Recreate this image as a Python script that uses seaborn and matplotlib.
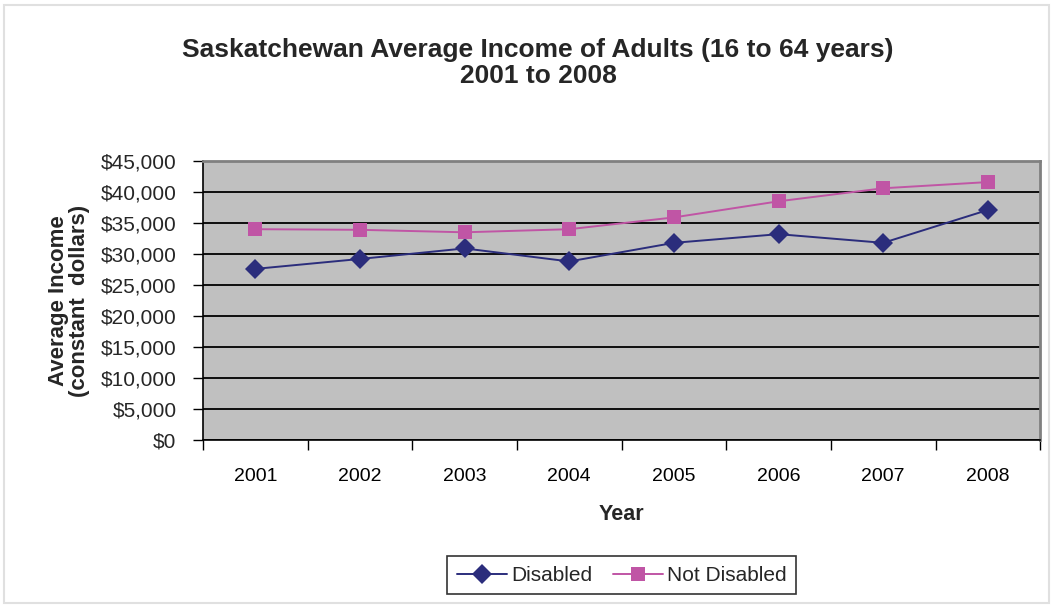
import pandas as pd
import numpy as np
import matplotlib.pyplot as plt
import seaborn as sns
from matplotlib.ticker import FuncFormatter, MultipleLocator
from matplotlib.patches import Rectangle

years = [2001, 2002, 2003, 2004, 2005, 2006, 2007, 2008]
disabled = [27600, 29200, 30900, 28800, 31800, 33200, 31800, 37100]
not_disabled = [34000, 33900, 33500, 34000, 35900, 38500, 40600, 41600]
series_names = ['Disabled', 'Not Disabled']
colors = ['#2B2D7C', '#C055A5']

df = pd.DataFrame({
    'Year': years * 2,
    'Income': disabled + not_disabled,
    'Group': [series_names[0]] * len(years) + [series_names[1]] * len(years),
})

sns.set_theme(style='white')
plt.rcParams['font.family'] = ['Liberation Sans', 'DejaVu Sans']

fig = plt.figure(figsize=(10.53, 6.05), dpi=100)
ax = fig.add_axes([0.1928, 0.2727, 0.795, 0.4612])
ax.set_facecolor('#C0C0C0')

sns.lineplot(data=df, x='Year', y='Income', hue='Group', style='Group',
             palette=colors, markers=['D', 's'], dashes=False,
             markersize=10, linewidth=1.4, markeredgewidth=0, ax=ax)

ax.set_ylim(0, 45000)
ax.set_xlim(years[0] - 0.5, years[-1] + 0.5)
ax.yaxis.set_major_locator(MultipleLocator(5000))
ax.yaxis.set_major_formatter(FuncFormatter(lambda v, p: f'${v:,.0f}'))
ax.set_xticks(years)
ax.set_xticklabels([str(y) for y in years])
ax.set_xticks(np.arange(years[0] - 0.5, years[-1] + 1, 1), minor=True)
ax.grid(axis='y', color='black', linewidth=1.3)
ax.set_axisbelow(True)

ax.tick_params(axis='x', which='major', length=0, pad=20, labelsize=14, colors='black')
ax.tick_params(axis='x', which='minor', length=7, width=1, color='black', direction='out', bottom=True)
ax.tick_params(axis='y', length=7, width=1, color='black', direction='out', left=True, labelsize=15, pad=12)

for side in ['top', 'right']:
    ax.spines[side].set_color('#808080')
    ax.spines[side].set_linewidth(2)
for side in ['left', 'bottom']:
    ax.spines[side].set_color('black')
    ax.spines[side].set_linewidth(1.2)

ax.set_xlabel('Year', fontsize=15.5, fontweight='bold', labelpad=14)
ax.set_ylabel('Average Income\n(constant  dollars)', fontsize=16, fontweight='bold', labelpad=8, linespacing=1.0)

fig.suptitle('Saskatchewan Average Income of Adults (16 to 64 years)\n2001 to 2008',
             x=0.511, y=0.937, fontsize=19, fontweight='bold', linespacing=1.1)

leg = ax.legend(loc='upper center', bbox_to_anchor=(0.5, -0.38), ncol=2, frameon=True,
                fancybox=False, edgecolor='black', fontsize=15, handlelength=2.4,
                handletextpad=0.2, columnspacing=1.0, borderpad=0.45)
leg.get_frame().set_linewidth(1.2)

fig.patches.append(Rectangle((0.004, 0.004), 0.992, 0.988, transform=fig.transFigure,
                             fill=False, edgecolor='#E0E0E0', linewidth=1.5))

fig.savefig('out.png', dpi=100, facecolor='white')
